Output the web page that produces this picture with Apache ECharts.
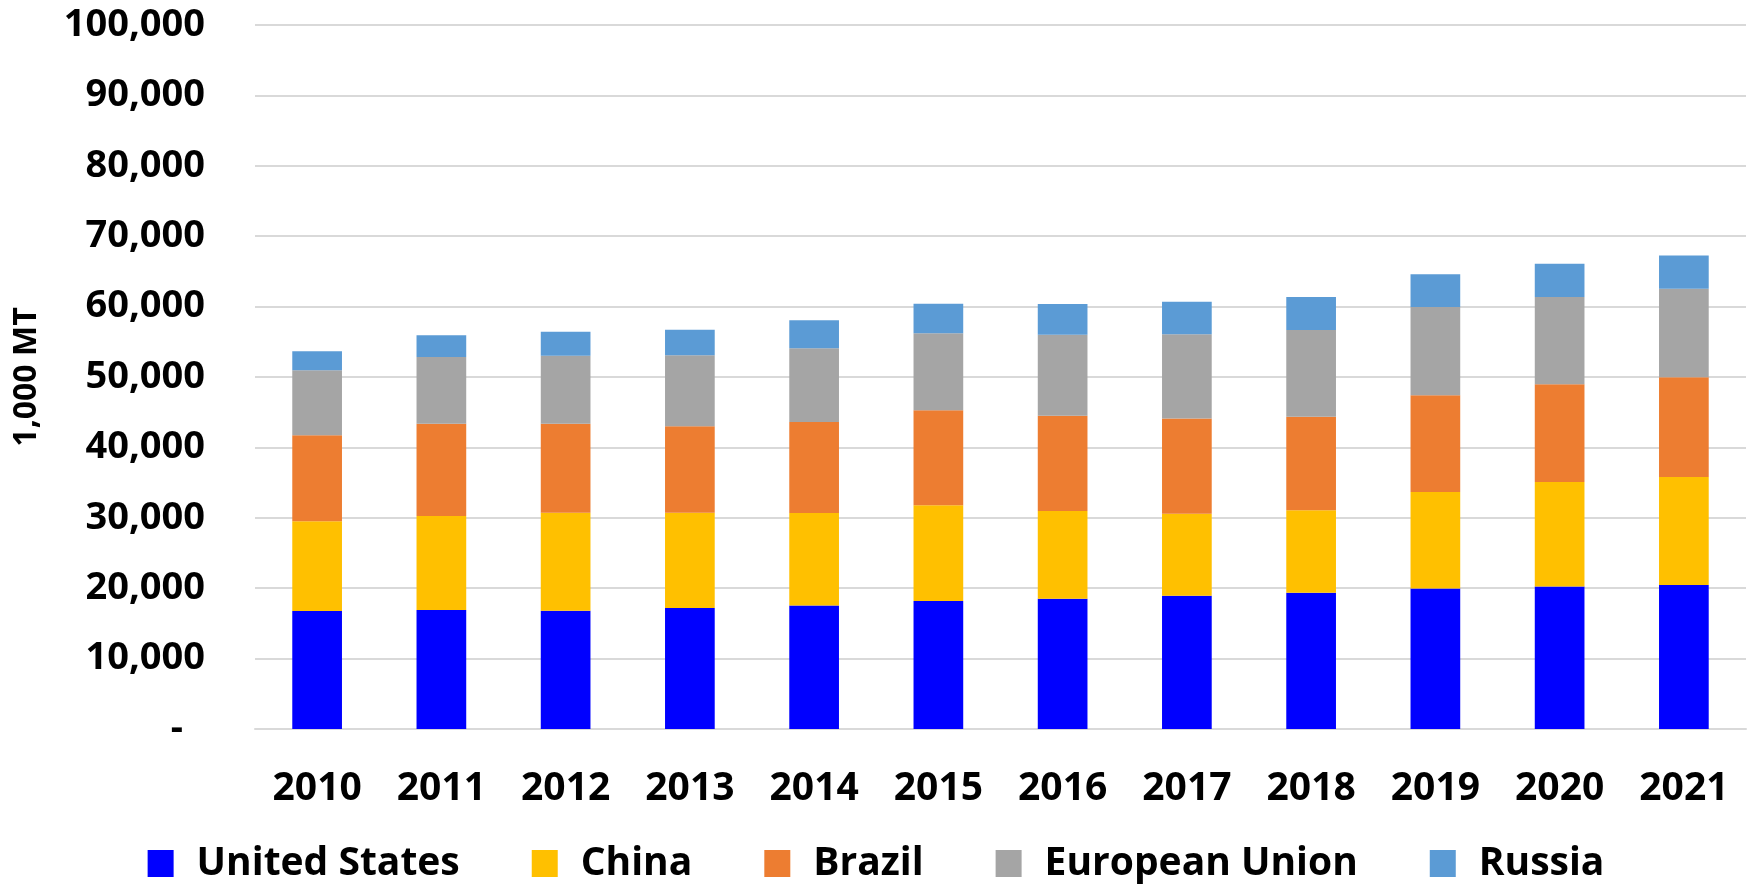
<!DOCTYPE html>
<html>
<head>
<meta charset="utf-8">
<script src="https://cdn.jsdelivr.net/npm/echarts@6/dist/echarts.min.js"></script>
<style>
html,body{margin:0;padding:0;background:#fff;}
#chart{width:1752px;height:884px;}
</style>
</head>
<body>
<div id="chart"></div>
<script>
const years = ['2010','2011','2012','2013','2014','2015','2016','2017','2018','2019','2020','2021'];
const unitedStates = [16750,16890,16790,17170,17545,18170,18490,18920,19340,19955,20240,20440];
const china        = [12770,13380,13910,13530,13150,13620,12490,11640,11740,13720,14860,15370];
const brazil       = [12200,13100,12670,12300,12920,13480,13530,13530,13290,13720,13860,14150];
const europeanUnion= [9225,9470,9655,10080,10460,10930,11500,11980,12300,12535,12390,12575];
const russia       = [2700,3080,3400,3630,3970,4200,4360,4630,4680,4680,4730,4740];
const seriesNames  = ['United States','China','Brazil','European Union','Russia'];
const seriesColors = ['#0000FF','#FFC000','#ED7D31','#A5A5A5','#5B9BD5'];
const yMin = 0, yMax = 100000, yStep = 10000;

const font = '"Open Sans", "Noto Sans", sans-serif';
const chart = echarts.init(document.getElementById('chart'));
const dataSets = [unitedStates, china, brazil, europeanUnion, russia];

chart.setOption({
  animation: false,
  backgroundColor: '#ffffff',
  grid: { left: 255, right: 6, top: 25, bottom: 155, containLabel: false },
  legend: {
    data: seriesNames,
    top: 839,
    left: 'center',
    itemWidth: 26,
    itemHeight: 27,
    itemGap: 72,
    icon: 'rect',
    textStyle: { fontFamily: font, fontWeight: 'bold', fontSize: 39, color: '#000', padding: [0, 0, 0, 18] }
  },
  xAxis: {
    type: 'category',
    data: years,
    axisTick: { show: false },
    axisLine: { lineStyle: { color: '#D9D9D9', width: 2 } },
    axisLabel: { fontFamily: font, fontWeight: 'bold', fontSize: 39, color: '#000', margin: 40 }
  },
  yAxis: {
    type: 'value',
    min: yMin, max: yMax, interval: yStep,
    name: '1,000 MT',
    nameLocation: 'middle',
    nameGap: 212,
    nameTextStyle: { fontFamily: font, fontWeight: 'bold', fontSize: 32, color: '#000' },
    axisLine: { show: false },
    axisTick: { show: false },
    splitLine: { lineStyle: { color: '#D9D9D9', width: 2 } },
    axisLabel: {
      fontFamily: font, fontWeight: 'bold', fontSize: 38, color: '#000', margin: 50,
      formatter: function (v) { return v === 0 ? '{d|-}' : v.toLocaleString('en-US'); },
      rich: { d: { fontFamily: font, fontWeight: 'bold', fontSize: 38, color: '#000', padding: [0, 22, 0, 0] } }
    }
  },
  series: dataSets.map(function (d, i) {
    return {
      name: seriesNames[i],
      type: 'bar',
      stack: 'total',
      barWidth: '40%',
      data: d,
      itemStyle: { color: seriesColors[i] }
    };
  })
});
</script>
</body>
</html>
